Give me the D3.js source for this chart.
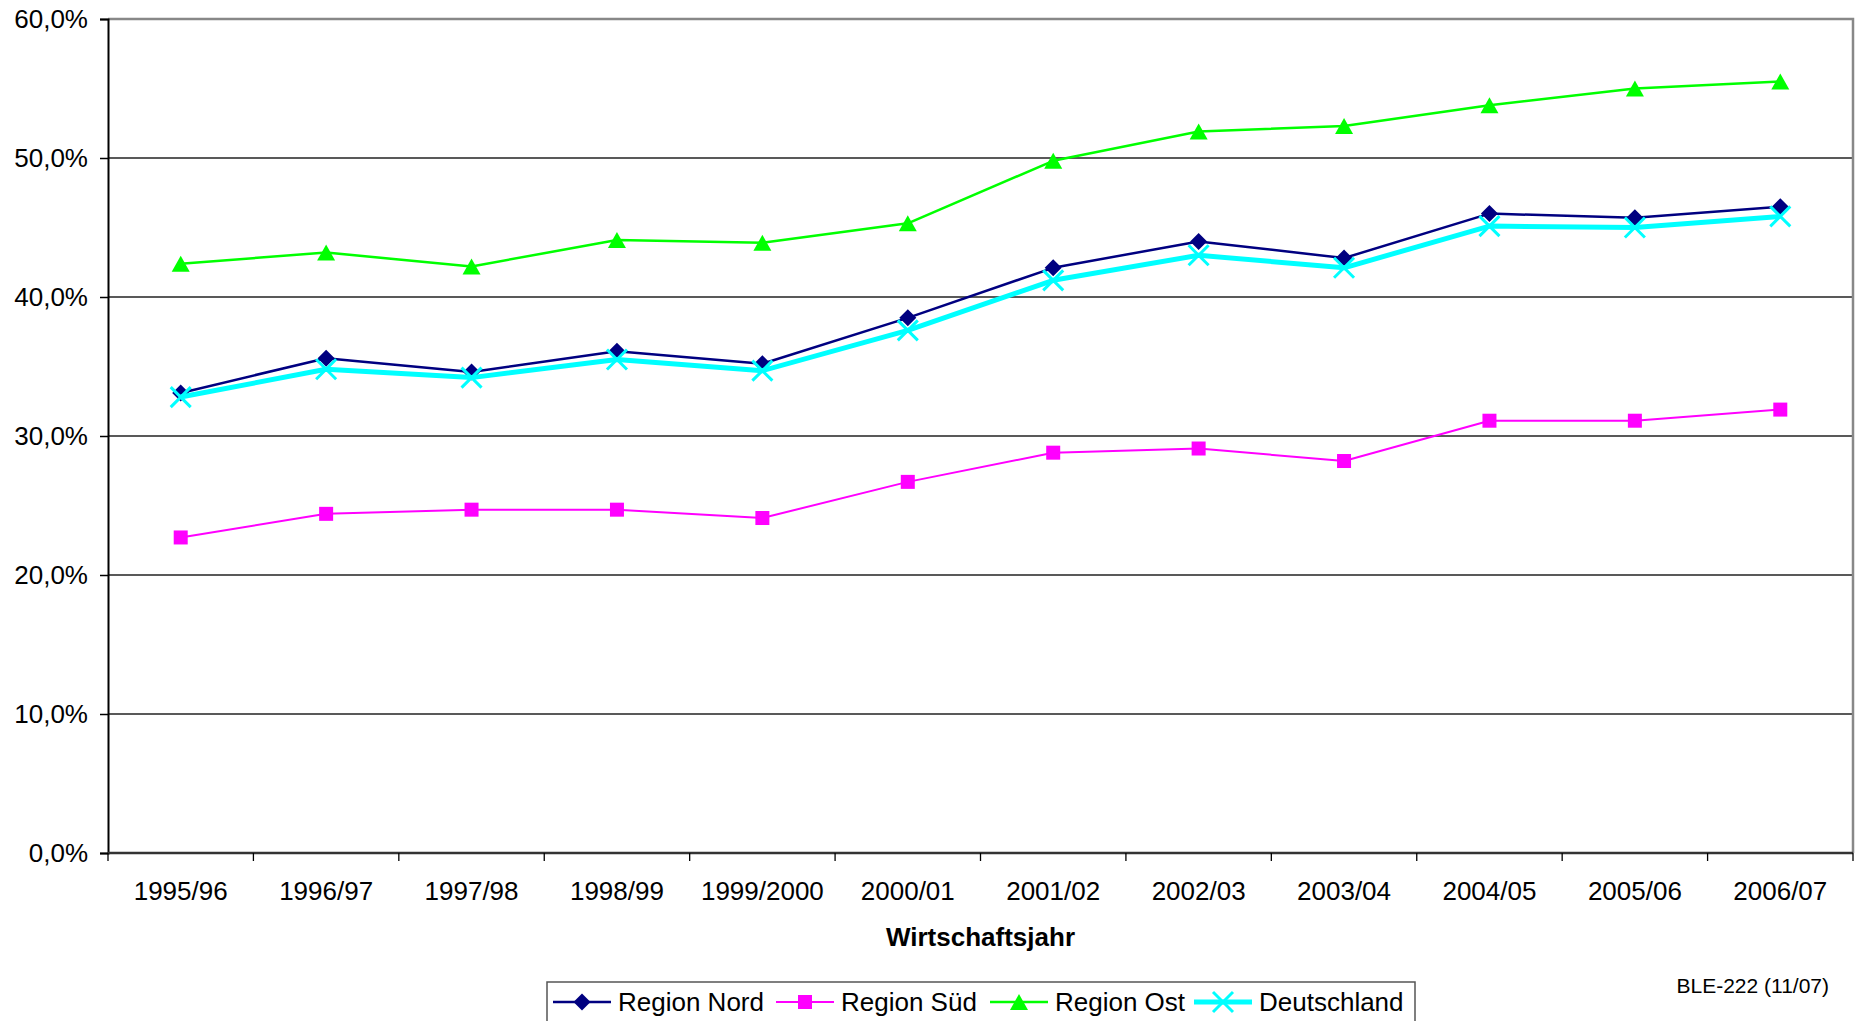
<!DOCTYPE html>
<html>
<head>
<meta charset="utf-8">
<script src="https://cdn.jsdelivr.net/npm/d3@7"></script>
<style>
  body { margin: 0; background: #fff; }
  text { font-family: "Liberation Sans", Arial, sans-serif; }
</style>
</head>
<body>
<svg id="svg1" width="1861" height="1021"></svg>
<script>
// data
var years = ['1995/96','1996/97','1997/98','1998/99','1999/2000','2000/01','2001/02','2002/03','2003/04','2004/05','2005/06','2006/07'];
var nord = [33.1, 35.6, 34.6, 36.1, 35.2, 38.5, 42.1, 44.0, 42.8, 46.0, 45.7, 46.5];
var sued = [22.7, 24.4, 24.7, 24.7, 24.1, 26.7, 28.8, 29.1, 28.2, 31.1, 31.1, 31.9];
var ost = [42.4, 43.2, 42.2, 44.1, 43.9, 45.3, 49.8, 51.9, 52.3, 53.8, 55.0, 55.5];
var deutschland = [32.8, 34.8, 34.2, 35.5, 34.7, 37.6, 41.2, 43.0, 42.1, 45.1, 45.0, 45.8];
var yTicks = [0, 10, 20, 30, 40, 50, 60];

var series = [
  {name: 'Region Nord', values: nord, color: '#000080', width: 2.5, marker: 'diamond'},
  {name: 'Region Süd', values: sued, color: '#ff00ff', width: 2, marker: 'square'},
  {name: 'Region Ost', values: ost, color: '#00ff00', width: 2.5, marker: 'triangle'},
  {name: 'Deutschland', values: deutschland, color: '#00ffff', width: 5, marker: 'x'}
];

var plotLeft = 108, plotRight = 1853, plotTop = 19, plotBottom = 853;

var svg = d3.select('svg');

var x = d3.scaleBand().domain(years).range([plotLeft, plotRight]);
var y = d3.scaleLinear().domain([0, 60]).range([plotBottom, plotTop]);

// gridlines
svg.append('g').selectAll('line')
    .data(yTicks.slice(1, -1))
    .enter().append('line')
    .attr('x1', plotLeft).attr('x2', plotRight)
    .attr('y1', function(d){ return y(d); })
    .attr('y2', function(d){ return y(d); })
    .attr('stroke', '#222').attr('stroke-width', 1.3);

// plot frame (top + right grey)
svg.append('path')
    .attr('d', 'M' + plotLeft + ',' + y(60) + 'H' + plotRight + 'V' + plotBottom)
    .attr('fill', 'none').attr('stroke', '#888').attr('stroke-width', 2.5);

// y axis
var yAxis = svg.append('g')
    .attr('transform', 'translate(' + plotLeft + ',0)')
    .call(d3.axisLeft(y).tickValues(yTicks).tickSize(8).tickPadding(12)
        .tickFormat(function(d){ return d.toFixed(1).replace('.', ',') + '%'; }));
yAxis.select('.domain').attr('stroke', '#000').attr('stroke-width', 2);
yAxis.selectAll('.tick line').attr('stroke', '#000').attr('stroke-width', 1.5);
yAxis.selectAll('text').attr('font-size', 26).attr('fill', '#000')
    .attr('font-family', '"Liberation Sans", Arial, sans-serif');

// x axis - ticks between categories
svg.append('line')
    .attr('x1', plotLeft).attr('x2', plotRight).attr('y1', plotBottom).attr('y2', plotBottom)
    .attr('stroke', '#333').attr('stroke-width', 2.5);
var boundaries = years.map(function(d){ return x(d); }).concat([plotRight]);
svg.append('g').selectAll('line')
    .data(boundaries)
    .enter().append('line')
    .attr('x1', function(d){ return d; }).attr('x2', function(d){ return d; })
    .attr('y1', plotBottom).attr('y2', plotBottom + 8)
    .attr('stroke', '#000').attr('stroke-width', 1.3);
svg.append('g').selectAll('text')
    .data(years)
    .enter().append('text')
    .attr('x', function(d){ return x(d) + x.bandwidth() / 2; })
    .attr('y', 900)
    .attr('text-anchor', 'middle')
    .attr('font-size', 26)
    .text(function(d){ return d; });

svg.append('text')
    .attr('x', (plotLeft + plotRight) / 2).attr('y', 946)
    .attr('text-anchor', 'middle')
    .attr('font-size', 26).attr('font-weight', 'bold')
    .text('Wirtschaftsjahr');

svg.append('text')
    .attr('x', 1829).attr('y', 993)
    .attr('text-anchor', 'end')
    .attr('font-size', 21)
    .text('BLE-222 (11/07)');

// markers
function drawMarker(g, type, color, cx, cy) {
  if (type === 'diamond') {
    g.append('path').attr('d', 'M0,-8.5L8.5,0L0,8.5L-8.5,0Z')
      .attr('transform', 'translate(' + cx + ',' + cy + ')').attr('fill', color);
  } else if (type === 'square') {
    g.append('rect').attr('x', cx - 7).attr('y', cy - 7).attr('width', 14).attr('height', 14)
      .attr('fill', color);
  } else if (type === 'triangle') {
    g.append('path').attr('d', 'M0,-9L9,7H-9Z')
      .attr('transform', 'translate(' + cx + ',' + (cy + 1) + ')').attr('fill', color);
  } else {
    g.append('path').attr('d', 'M-10,-10L10,10M-10,10L10,-10')
      .attr('transform', 'translate(' + cx + ',' + cy + ')')
      .attr('stroke', color).attr('stroke-width', 3).attr('fill', 'none');
  }
}

var line = d3.line()
    .x(function(d, i){ return x(years[i]) + x.bandwidth() / 2; })
    .y(function(d){ return y(d); });

series.forEach(function(s){
  var g = svg.append('g');
  g.append('path')
    .attr('d', line(s.values))
    .attr('fill', 'none')
    .attr('stroke', s.color)
    .attr('stroke-width', s.width)
    .attr('stroke-linejoin', 'round');
  s.values.forEach(function(v, i){
    drawMarker(g, s.marker, s.color, x(years[i]) + x.bandwidth() / 2, y(v));
  });
});

// legend
var legX = [553, 776, 990, 1194];
var legend = svg.append('g');
legend.append('rect')
    .attr('x', 547).attr('y', 982).attr('width', 868).attr('height', 44)
    .attr('fill', '#fff').attr('stroke', '#555').attr('stroke-width', 1.5);
series.forEach(function(s, i){
  var g = legend.append('g');
  g.append('line')
    .attr('x1', legX[i]).attr('x2', legX[i] + 58)
    .attr('y1', 1002).attr('y2', 1002)
    .attr('stroke', s.color).attr('stroke-width', s.width);
  drawMarker(g, s.marker, s.color, legX[i] + 29, 1002);
  g.append('text')
    .attr('x', legX[i] + 65).attr('y', 1011)
    .attr('font-size', 26)
    .text(s.name);
});
</script>
</body>
</html>
